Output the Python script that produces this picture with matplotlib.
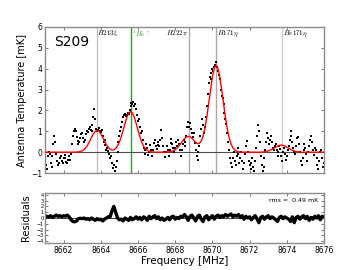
import numpy as np
import matplotlib
matplotlib.use('Agg')
import matplotlib.pyplot as plt

plt.rcParams['mathtext.fontset'] = 'cm'

# spectrum (mK), 8661.00 .. 8676.00 MHz every 0.05 MHz
freq_start, freq_step = 8661.0, 0.05
spec = [
    -0.1, -0.6, -0.8, -0.2, 0.0, -0.1, -0.5, -0.7, -0.2, 0.4, 0.8, 0.5, -0.1, -0.4, -0.6, -0.5, -0.3, -0.2, -0.4, -0.5,
    -0.3, -0.15, -0.3, -0.45, -0.5, -0.35, -0.2, -0.35, -0.1, 0.4, 0.8, 1.0, 1.1, 1.0, 0.75, 0.55, 0.4, 0.5, 0.7, 0.85,
    0.9, 0.7, 0.5, 0.6, 0.85, 1.0, 0.95, 1.1, 1.2, 1.05, 1.0, 1.3, 1.7, 2.05, 1.6, 1.1, 1.0, 1.05, 1.15, 1.0,
    0.95, 1.05, 0.8, 0.5, 0.6, 0.35, 0.1, 0.2, 0.05, -0.1, -0.3, -0.2, -0.5, -0.75, -0.6, -0.9, -0.7, -0.4, 0.0, 0.5,
    0.8, 1.0, 1.2, 1.45, 1.7, 1.8, 1.85, 1.75, 1.8, 1.9, 1.85, 2.0, 2.2, 2.35, 2.3, 2.4, 2.2, 2.3, 2.05, 1.8,
    1.5, 1.6, 1.2, 0.9, 1.0, 0.6, 0.2, -0.1, 0.1, 0.4, 0.2, -0.15, 0.0, 0.35, 0.1, -0.2, 0.1, 0.45, 0.6, 0.3,
    0.15, 0.35, 0.5, 0.3, 0.6, 1.05, 0.7, 0.3, 0.0, -0.25, 0.0, 0.3, 0.1, -0.2, 0.1, 0.45, 0.65, 0.4, 0.2, 0.0,
    0.2, 0.5, 0.3, 0.6, 0.4, 0.1, -0.2, 0.1, 0.4, 0.6, 0.3, 0.5, 0.8, 1.2, 1.45, 1.2, 1.4, 1.1, 0.9, 0.75,
    0.9, 0.45, 0.1, -0.2, -0.35, 0.0, 0.3, 0.8, 1.1, 1.6, 1.3, 0.9, 1.2, 1.7, 2.2, 2.8, 3.3, 3.6, 3.5, 3.8,
    4.0, 3.9, 4.1, 4.2, 4.32, 4.1, 3.9, 3.7, 3.5, 3.0, 2.7, 2.6, 2.3, 1.9, 1.6, 1.35, 0.9, 0.5, 0.1, -0.3,
    -0.5, -0.7, -0.3, 0.0, -0.4, -0.6, -0.2, 0.2, -0.1, -0.5, -0.3, 0.0, -0.4, -0.8, -0.5, -0.1, 0.3, 0.55, 0.0, -0.4,
    -0.6, -0.8, -0.5, -0.3, -0.7, -0.9, -0.4, 0.2, 0.8, 1.3, 1.0, 0.5, -0.2, -0.6, -0.9, -0.7, -0.3, 0.1, 0.5, 0.9,
    0.7, 0.4, 0.6, 0.8, 0.5, 0.2, 0.1, 0.3, 0.4, 0.1, -0.2, 0.0, 0.3, 0.15, -0.2, -0.4, 0.0, 0.2, -0.1, -0.35,
    -0.2, 0.1, 0.3, 0.6, 1.0, 0.8, 0.5, 0.2, 0.0, -0.1, 0.3, 0.7, 0.75, 0.4, 0.0, -0.4, -0.6, -0.3, 0.1, 0.4,
    0.2, -0.1, -0.4, 0.0, 0.3, 0.6, 0.8, 0.5, 0.1, -0.15, 0.2, 0.1, -0.3, -0.6, -0.8, -0.4, 0.0, 0.1, -0.3, -0.7,
    -0.5,
]

# gaussian fit (mK), 8661.0 .. 8676.0 MHz every 0.1 MHz
fit_start, fit_step = 8661.0, 0.1
fit = [
    0, 0, 0, 0, 0, 0, 0, 0, 0, 0,
    0, 0, 0, 0, 0, 0, 0, 0.006, 0.014, 0.032,
    0.066, 0.126, 0.221, 0.356, 0.525, 0.712, 0.883, 1.006, 1.05, 1.006,
    0.883, 0.712, 0.526, 0.358, 0.229, 0.144, 0.107, 0.118, 0.179, 0.300,
    0.488, 0.743, 1.052, 1.378, 1.671, 1.876, 1.95, 1.876, 1.671, 1.378,
    1.052, 0.743, 0.486, 0.294, 0.165, 0.086, 0.041, 0.018, 0.008, 0.003,
    0, 0, 0, 0, 0, 0.004, 0.009, 0.020, 0.040, 0.073,
    0.127, 0.204, 0.305, 0.424, 0.547, 0.657, 0.733, 0.76, 0.736, 0.666,
    0.569, 0.474, 0.413, 0.421, 0.530, 0.769, 1.158, 1.692, 2.336, 3.006,
    3.603, 4.020, 4.17, 4.020, 3.603, 3.002, 2.327, 1.672, 1.118, 0.696,
    0.403, 0.217, 0.108, 0.050, 0.022, 0.009, 0.003, 0, 0, 0,
    0, 0, 0, 0, 0, 0, 0, 0.009, 0.018, 0.033,
    0.057, 0.091, 0.136, 0.190, 0.245, 0.294, 0.328, 0.34, 0.328, 0.294,
    0.245, 0.190, 0.136, 0.091, 0.057, 0.033, 0.018, 0.009, 0, 0,
    0, 0, 0, 0, 0, 0, 0, 0, 0, 0,
    0,
]

# residuals (mK), same grid as the fit
resid = [
    0.1, 0.3, 0.2, 0.4, 0.1, 0.3, 0.5, 0.3, 0.4, 0.2,
    0.4, 0.3, 0.5, 0.2, -0.3, -0.6, -0.65, -0.5, -0.1, -0.05,
    -0.1, 0.0, -0.2, -0.1, -0.3, 0.0, -0.2, -0.4, -0.1, -0.3,
    -0.2, -0.5, -0.2, 0.0, 0.2, 0.2, 1.2, 2.0, 1.0, 0.0,
    -0.3, -0.2, -0.5, 0.0, -0.2, -0.4, 0.1, -0.3, -0.1, 0.2,
    -0.2, 0.1, -0.3, 0.2, 0.0, -0.4, 0.3, -0.1, 0.2, 0.4,
    -0.1, 0.2, -0.3, 0.0, -0.4, -0.2, 0.1, -0.3, 0.2, 0.3,
    -0.2, 0.1, -0.1, 0.3, 0.2, 0.6, 0.2, -0.4, 0.3, 0.5,
    0.0, -0.5, 0.3, 0.5, -0.2, -0.6, 0.2, 0.4, -0.3, 0.1,
    0.4, -0.2, 0.3, 0.5, 0.1, 0.4, 0.2, 0.6, 0.3, 0.5,
    0.7, 0.2, 0.5, 0.3, 0.6, 0.1, 0.4, -0.2, 0.3, 0.0,
    0.2, -0.3, 0.1, 0.4, -0.2, -0.8, 0.1, 0.3, -0.2, 0.2,
    0.4, -0.1, 0.2, 0.0, -0.3, -0.6, 0.1, 0.3, -0.1, 0.2,
    0.0, -0.2, -0.6, 0.2, -0.8, 0.1, 0.3, -0.2, 0.2, 0.4,
    -0.1, 0.3, -0.4, 0.1, -0.2, 0.3, 0.0, 0.4, -0.3, 0.3,
    0.2,
]

line_freqs = [8663.78, 8665.64, 8668.74, 8670.22, 8673.74]
line_names = [r'$H213\xi$', r'$^3He^+$', r'$H222\pi$', r'$H171\eta$', r'$He171\eta$']
line_colors = ['#c9bcbc', '#2e9a2e', '#b8a4a4', '#b8a4a4', '#d8c8c8']
line_align = ['left', 'left', 'right', 'left', 'left']

f_spec = freq_start + freq_step * np.arange(len(spec))
f_fit = fit_start + fit_step * np.arange(len(fit))

fig = plt.figure(figsize=(3.6, 2.7), dpi=100)
ax = fig.add_axes([0.125, 0.359, 0.775, 0.541])
axr = fig.add_axes([0.125, 0.10, 0.775, 0.185])

for a in (ax, axr):
    for s in a.spines.values():
        s.set_color('0.55')
        s.set_linewidth(1.0)
    a.tick_params(direction='in', top=True, right=True, labelsize=5.5,
                  length=2.5, width=0.6, color='0.4', pad=2)
    a.set_xlim(8661, 8676)
    a.set_xticks(np.arange(8662, 8677, 2))

for fr, name, col, ha in zip(line_freqs, line_names, line_colors, line_align):
    ax.axvline(fr, color=col, lw=1.0, zorder=1)
    ax.text(fr + (0.03 if ha == 'left' else -0.03), 5.93, name, ha=ha, va='top',
            fontsize=5, color='#2e9a2e' if col == '#2e9a2e' else 'k')

ax.axhline(0, color='0.3', lw=0.8, zorder=1)
ax.plot(f_spec, spec, 's', color='k', ms=2.0, mew=0, zorder=2)
ax.plot(f_fit, fit, '-', color='red', lw=1.0, zorder=3)
ax.set_ylim(-1, 6)
ax.set_yticks(range(-1, 7))
ax.set_xticklabels([])
ax.set_ylabel('Antenna Temperature [mK]', fontsize=7, labelpad=3)
ax.text(8661.5, 5.3, 'S209', fontsize=10, va='center')

axr.axhline(0, color='0.3', lw=0.8)
axr.plot(f_fit, resid, '-', color='k', lw=2.4)
axr.set_ylim(-4.3, 4.3)
axr.set_yticks(range(-4, 5))
axr.tick_params(axis='y', labelsize=3.5, pad=1)
axr.set_ylabel('Residuals', fontsize=7, labelpad=4)
axr.set_xlabel('Frequency [MHz]', fontsize=7.5, labelpad=1)
axr.text(8675.7, 3.0, 'rms =  0.49 mK', fontsize=4.5, ha='right', va='center')

fig.savefig('out.png', dpi=100)
